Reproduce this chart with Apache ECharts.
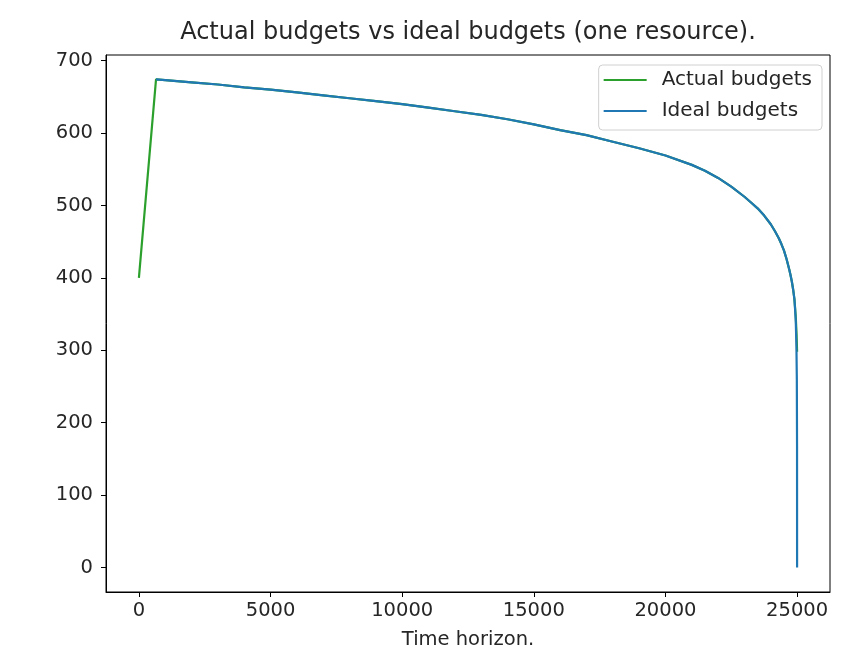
<!DOCTYPE html>
<html lang="en">
<head>
    <meta charset="UTF-8">
    <title>Actual budgets vs ideal budgets</title>
    <script src="https://cdn.jsdelivr.net/npm/echarts@6/dist/echarts.min.js"></script>
    <style>
        html, body {
            margin: 0;
            padding: 0;
            background: #fff;
        }
        #chart {
            width: 859px;
            height: 655px;
        }
    </style>
</head>
<body>
<div id="chart"></div>
<script>
    // values
    var actualTime = [0, 650, 1000, 2000, 3000, 4000, 5000, 6000, 7000, 8000, 9000, 10000, 11000, 12000,
        13000, 14000, 15000, 16000, 17000, 18000, 19000, 20000, 21000, 21500, 22000, 22500, 23000, 23250,
        23500, 23750, 24000, 24150, 24300, 24400, 24500, 24600, 24700, 24750, 24800, 24850, 24900, 24925,
        24950, 24980, 25000];
    var actualBudget = [400, 674, 673, 670, 667, 663, 660, 656, 652, 648, 644, 640, 635, 630,
        625, 619, 612, 604, 597, 588, 579, 569, 556, 548, 538, 526, 512, 504,
        496, 486, 474, 465, 455, 447, 438, 426, 412, 404, 395, 384, 370, 358,
        346, 322, 298];

    var idealTime = [650, 1000, 2000, 3000, 4000, 5000, 6000, 7000, 8000, 9000, 10000, 11000, 12000,
        13000, 14000, 15000, 16000, 17000, 18000, 19000, 20000, 21000, 21500, 22000, 22500, 23000, 23250,
        23500, 23750, 24000, 24150, 24300, 24400, 24500, 24600, 24700, 24750, 24800, 24850, 24900, 24925,
        24950, 24975, 24990, 24998, 25000];
    var idealBudget = [674, 673, 670, 667, 663, 660, 656, 652, 648, 644, 640, 635, 630,
        625, 619, 612, 604, 597, 588, 579, 569, 556, 548, 538, 526, 512, 504,
        496, 486, 474, 465, 455, 447, 438, 426, 412, 404, 395, 384, 370, 356,
        340, 305, 260, 170, 0];

    var xTicks = [0, 5000, 10000, 15000, 20000, 25000];
    var yTicks = [0, 100, 200, 300, 400, 500, 600, 700];

    function pairs(xs, ys) {
        var out = [];
        for (var i = 0; i < xs.length; i++) {
            out.push([xs[i], ys[i]]);
        }
        return out;
    }

    function plain(v) {
        return String(v);
    }

    var font = 'DejaVu Sans';
    var textColor = '#262626';
    var myChart = echarts.init(document.getElementById('chart'), null, {renderer: 'canvas'});

    var option = {
        animation: false,
        backgroundColor: '#fff',
        textStyle: {fontFamily: font},
        grid: {
            left: 106,
            right: 29,
            top: 55,
            bottom: 60,
            show: true,
            borderColor: '#000',
            borderWidth: 1
        },
        graphic: [{
            type: 'text',
            x: 468,
            y: 33,
            style: {
                text: 'Actual budgets vs ideal budgets (one resource).',
                font: '24px "DejaVu Sans"',
                fill: textColor,
                textAlign: 'center',
                textVerticalAlign: 'middle'
            }
        }],
        legend: {
            orient: 'vertical',
            right: 37,
            top: 65,
            padding: [5, 10, 9, 5],
            itemGap: 11,
            itemWidth: 43,
            itemHeight: 2,
            icon: 'rect',
            borderColor: '#d0d0d0',
            borderWidth: 1,
            borderRadius: 4,
            backgroundColor: 'rgba(255,255,255,0.85)',
            textStyle: {fontFamily: font, fontSize: 20, color: textColor, padding: [0, 0, 0, 10]},
            data: ['Actual budgets', 'Ideal budgets']
        },
        xAxis: {
            type: 'value',
            min: -1250,
            max: 26250,
            name: 'Time horizon.',
            nameLocation: 'middle',
            nameGap: 38,
            nameTextStyle: {fontFamily: font, fontSize: 19.5, color: textColor},
            splitLine: {show: false},
            axisLine: {show: true, onZero: false, lineStyle: {color: '#000', width: 1}},
            axisTick: {show: true, length: 5, customValues: xTicks, lineStyle: {color: '#000'}},
            axisLabel: {
                customValues: xTicks,
                formatter: plain,
                margin: 9,
                fontFamily: font,
                fontSize: 19.5,
                color: textColor
            }
        },
        yAxis: {
            type: 'value',
            min: -33.7,
            max: 707.7,
            splitLine: {show: false},
            axisLine: {show: true, onZero: false, lineStyle: {color: '#000', width: 1}},
            axisTick: {show: true, length: 5, customValues: yTicks, lineStyle: {color: '#000'}},
            axisLabel: {
                customValues: yTicks,
                formatter: plain,
                margin: 13,
                fontFamily: font,
                fontSize: 19.5,
                color: textColor
            }
        },
        series: [
            {
                name: 'Actual budgets',
                type: 'line',
                data: pairs(actualTime, actualBudget),
                showSymbol: false,
                color: '#2ca02c',
                lineStyle: {width: 2.2, color: '#2ca02c'},
                z: 2
            },
            {
                name: 'Ideal budgets',
                type: 'line',
                data: pairs(idealTime, idealBudget),
                showSymbol: false,
                color: '#1f77b4',
                lineStyle: {width: 2.2, color: '#1f77b4'},
                z: 3
            }
        ]
    };
    myChart.setOption(option);
</script>
</body>
</html>
